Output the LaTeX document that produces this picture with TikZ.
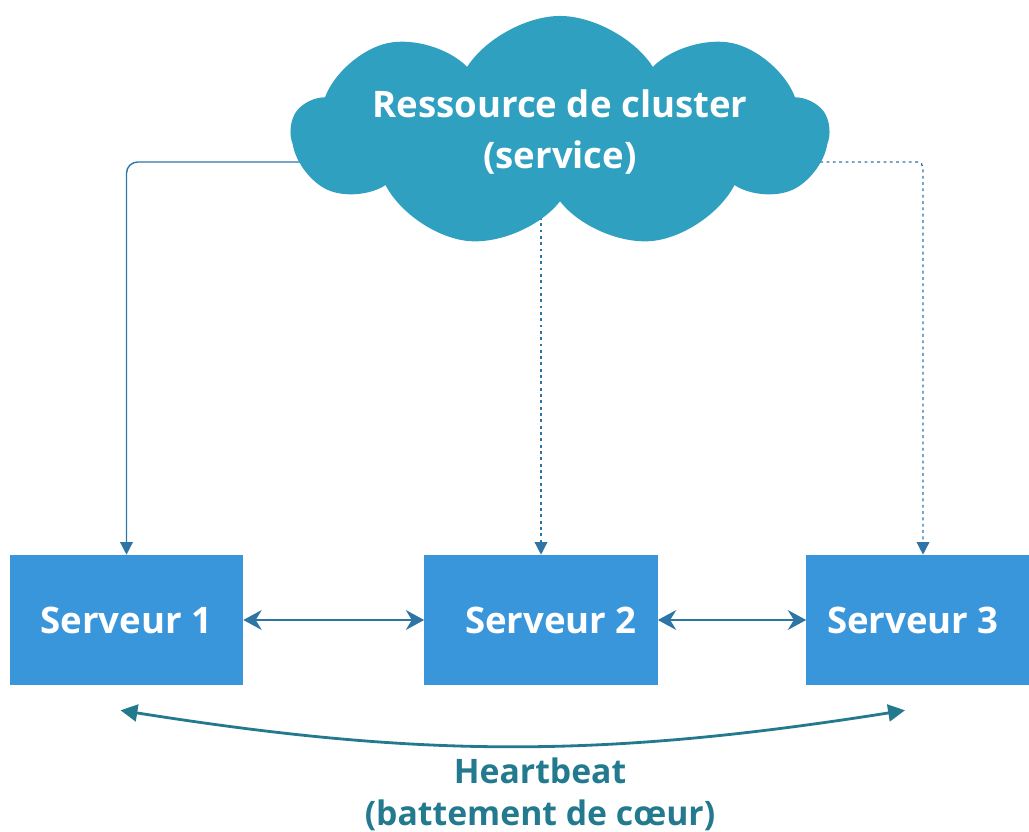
\documentclass[tikz,border=0pt]{standalone}
\usepackage{fontspec}
\setmainfont{Open Sans}
\usepackage{tikz}
\usetikzlibrary{positioning,shapes.symbols,arrows.meta,backgrounds}

\definecolor{cloudblue}{RGB}{47,160,192}
\definecolor{boxblue}{RGB}{58,150,218}
\definecolor{linkblue}{RGB}{46,117,166}
\definecolor{beatteal}{RGB}{35,122,143}

\begin{document}
\begin{tikzpicture}[x=0.025cm, y=-0.025cm,
    srv/.style={fill=boxblue, text=white, minimum width=5.825cm, minimum height=3.25cm, font=\fontsize{26}{30}\selectfont\bfseries},
    res/.style={cloud, cloud puffs=9, cloud puff arc=115, cloud ignores aspect, fill=cloudblue, text=white, align=center, minimum width=13.4cm, minimum height=5.8cm, inner sep=0pt, font=\fontsize{26}{36}\selectfont\bfseries},
    feed/.style={draw=linkblue, line width=1pt, -{Triangle[length=9pt,width=9pt]}},
    peer/.style={draw=linkblue, line width=2pt, {Stealth[length=13pt,width=14pt]}-{Stealth[length=13pt,width=14pt]}}]
            \clip (0,0) rectangle (1029,832);
            \node[res] (cluster) at (560,132) {Ressource de cluster\\(service)};
            \node[srv] (s1) at (126.5,620) {Serveur 1};
            \node[srv] (s2) at (541,620) {\hspace*{0.5cm}Serveur 2};
            \node[srv] (s3) at (923,620) {Serveur 3\hspace*{0.5cm}};
            \coordinate (c1) at (400,162);
            \coordinate (c2) at (541,160);
            \coordinate (c3) at (700,162);
            \begin{scope}[on background layer]
            \draw[feed,rounded corners=8pt] (c1) -| (s1.north);
            \draw[feed,dash pattern=on 2pt off 2.5pt] (c2) -- (s2.north);
            \draw[feed,dash pattern=on 2pt off 2.5pt,rounded corners=4pt] (c3) -| (s3.north);
            \end{scope}
            \draw[peer] (s1.east) -- (s2.west);
            \draw[peer] (s2.east) -- (s3.west);
            \draw[draw=beatteal, line width=2pt, {Triangle[length=12pt,width=12pt]}-{Triangle[length=12pt,width=12pt]}] ([xshift=-0.15cm,yshift=-0.625cm]s1.south) to[bend right=9] ([xshift=-0.45cm,yshift=-0.625cm]s3.south);
            \node[text=beatteal, align=center, font=\fontsize{24}{30}\selectfont\bfseries] (beat) at (540,794) {Heartbeat\\(battement de cœur)};
        \end{tikzpicture}
\end{document}
